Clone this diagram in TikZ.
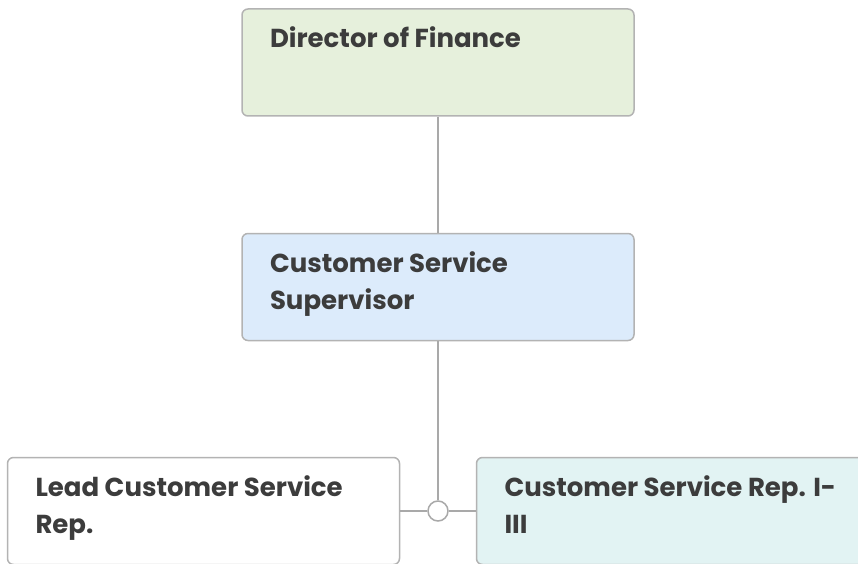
\documentclass[tikz,border=0pt]{standalone}
\usepackage{fontspec}
\setmainfont{Poppins}
\usepackage{xcolor}
\definecolor{verdeclaro}{HTML}{E6F0DC}
\definecolor{azulclaro}{HTML}{DCEBFB}
\definecolor{cianclaro}{HTML}{E2F3F3}
\definecolor{bordegris}{HTML}{B3B3B3}
\definecolor{lineagris}{HTML}{A9A9A9}
\definecolor{textogris}{HTML}{3C3C3C}
\usetikzlibrary{positioning}

\begin{document}
\begin{tikzpicture}[
  x=1pt, y=1pt,
  node distance=116pt and 27pt,
  box/.style={
    rectangle, rounded corners=6pt,
    draw=bordegris, line width=1.5pt, fill=white,
    font=\fontsize{26}{37}\selectfont\bfseries, text=textogris,
    inner xsep=28pt, inner ysep=0pt,
    execute at begin node={\begin{minipage}[c][107pt][t]{336pt}\vspace*{18pt}\raggedright},
    execute at end node={\end{minipage}}
  },
  junta/.style={circle, draw=lineagris, line width=1.5pt, fill=white,
    minimum size=20pt, inner sep=0pt},
  linea/.style={lineagris, line width=1.5pt}
]
  \useasboundingbox (0,0) rectangle (858,563);
  \node[box, fill=verdeclaro] (dir) at (438,500.5) {Director of Finance};
  \node[box, fill=azulclaro, below=of dir] (sup) {Customer Service\\Supervisor};
  \node[junta, below=159pt of sup] (junc) {};
  \node[box, left=of junc] (lead) {Lead Customer Service\\Rep.};
  \node[box, fill=cianclaro, right=of junc] (rep) {Customer Service Rep. I-\\III};
  \foreach \a/\b in {dir/sup,sup/junc,junc/lead,junc/rep}
    \draw[linea] (\a)--(\b);
\end{tikzpicture}
\end{document}
